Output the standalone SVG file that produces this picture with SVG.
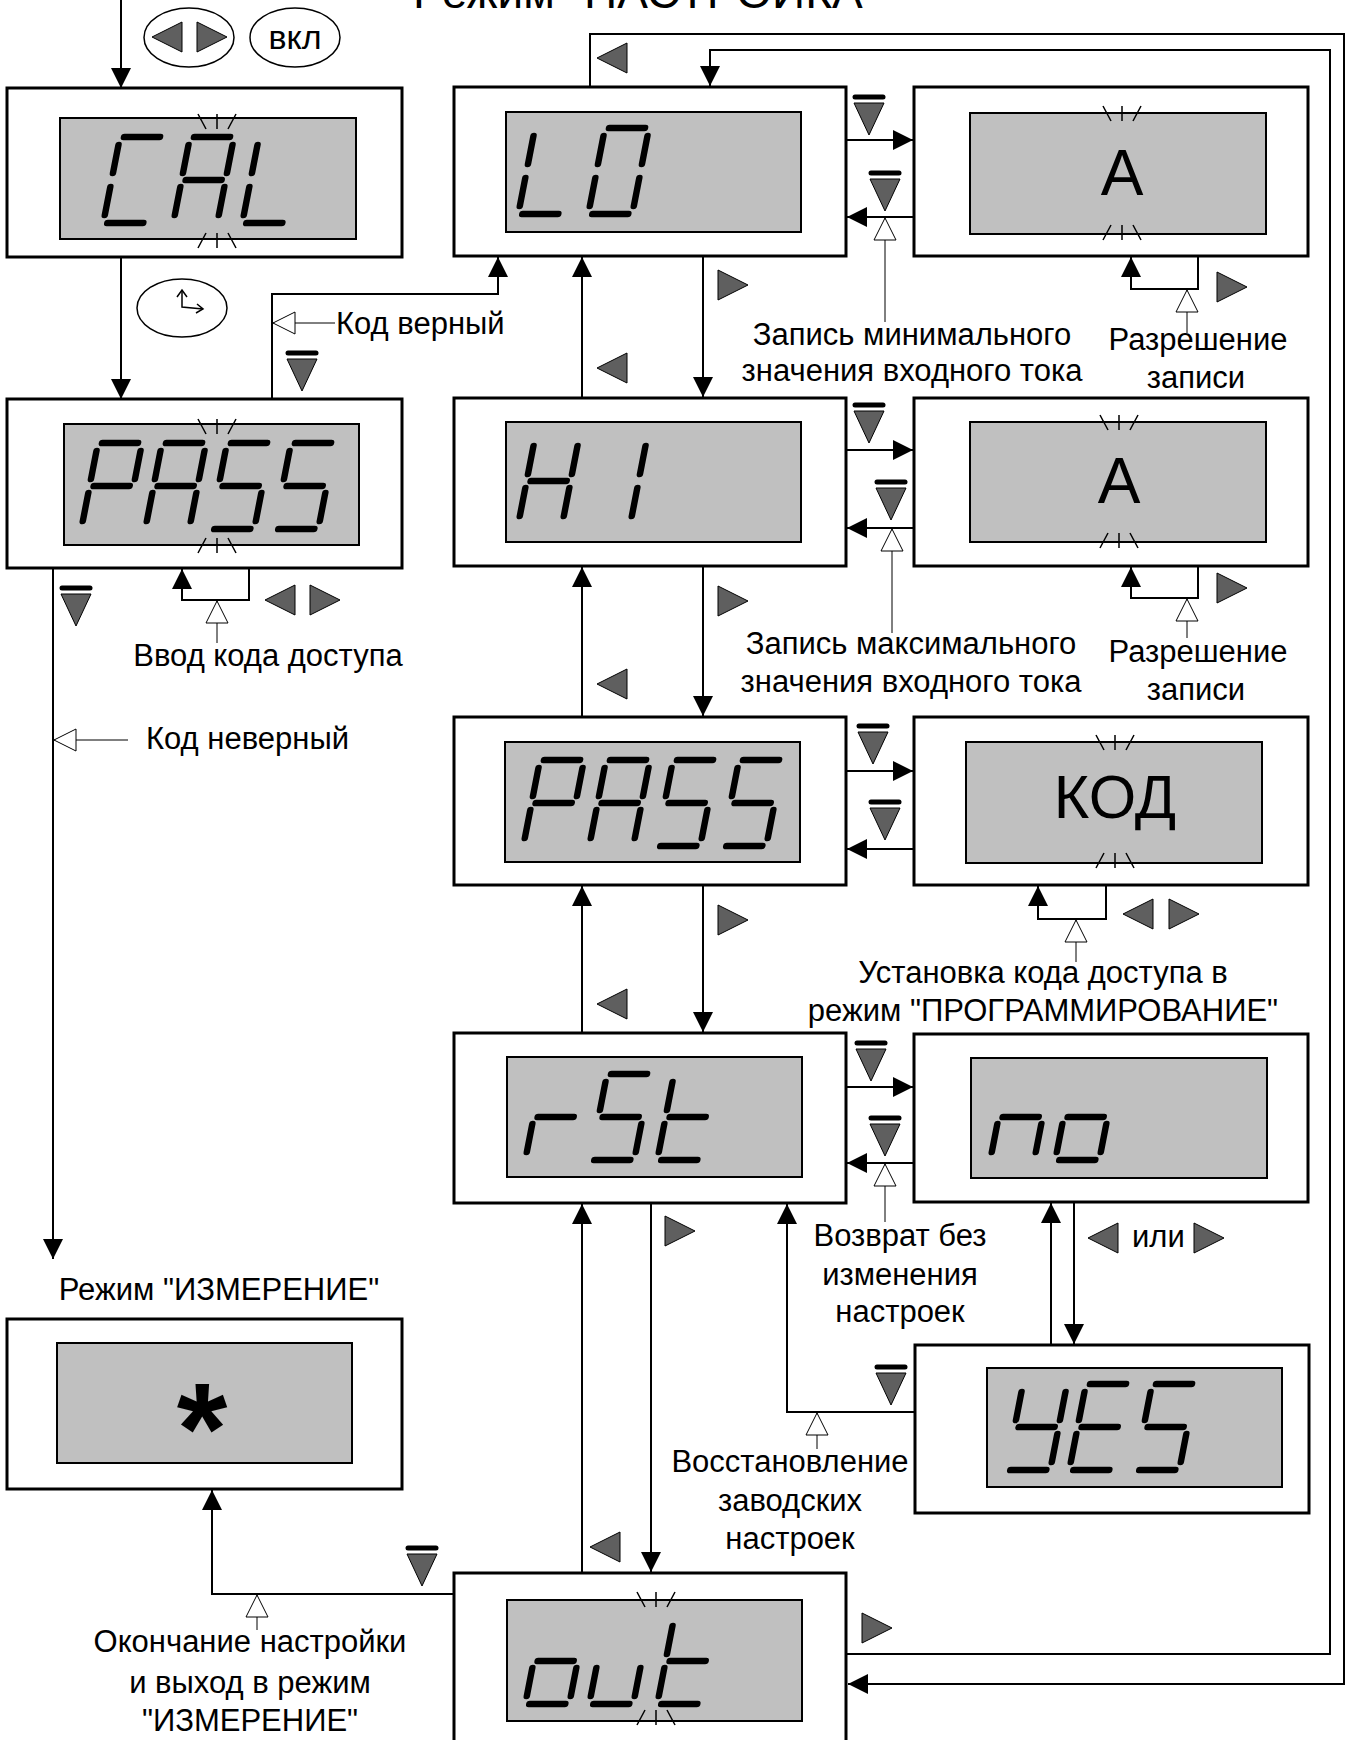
<svg xmlns="http://www.w3.org/2000/svg" xmlns:xlink="http://www.w3.org/1999/xlink" width="1346" height="1740" viewBox="0 0 1346 1740">
<style>
.box{fill:#fff;stroke:#000;stroke-width:3}
.lcd{fill:#c0c0c0;stroke:#000;stroke-width:2}
.seg{fill:none;stroke:#000;stroke-width:6.5;stroke-linecap:round}
.bl{fill:none;stroke:#000;stroke-width:1.5}
.ln{fill:none;stroke:#000;stroke-width:2}
.ld{fill:none;stroke:#000;stroke-width:1}
.key{fill:#5f5f5f;stroke:#000;stroke-width:1}
.ell{fill:#fff;stroke:#000;stroke-width:1.5}
.t{font-family:"Liberation Sans",Arial,sans-serif;font-size:31px;fill:#000}
.m{text-anchor:middle}
</style>
<defs>
<marker id="ah" markerUnits="userSpaceOnUse" markerWidth="22" markerHeight="22" refX="20" refY="10" orient="auto" overflow="visible"><path d="M0,0 L20,10 L0,20 z" fill="#000"/></marker>
<marker id="oh" markerUnits="userSpaceOnUse" markerWidth="26" markerHeight="26" refX="23" refY="12" orient="auto" overflow="visible"><path d="M1,1 L23,12 L1,23 z" fill="#fff" stroke="#000" stroke-width="1"/></marker>
<polygon id="kL" class="key" points="-15,0 15,-15 15,15"/>
<polygon id="kR" class="key" points="15,0 -15,-15 -15,15"/>
<g id="kD"><line x1="-14" y1="0" x2="14" y2="0" stroke="#000" stroke-width="5" stroke-linecap="round"/><polygon class="key" points="-15,6 15,6 0,38"/></g>
<g id="bt" class="bl"><line x1="0" y1="0" x2="0" y2="15"/><line x1="-19" y1="0" x2="-11" y2="15"/><line x1="19" y1="0" x2="11" y2="15"/></g>
<g id="bb" class="bl"><line x1="0" y1="0" x2="0" y2="-15"/><line x1="-19" y1="0" x2="-11" y2="-15"/><line x1="19" y1="0" x2="11" y2="-15"/></g>
<path id="dC" class="seg" d="M4,0H40 M0,8V36 M0,50V78 M4,86H40"/>
<path id="dA" class="seg" d="M4,0H40 M44,8V36 M44,50V78 M0,50V78 M0,8V36 M4,43H40"/>
<path id="dL" class="seg" d="M0,8V36 M0,50V78 M4,86H40"/>
<path id="dP" class="seg" d="M4,0H40 M44,8V36 M0,8V36 M4,43H40 M0,50V78"/>
<path id="dS" class="seg" d="M4,0H40 M0,8V36 M4,43H40 M44,50V78 M4,86H40"/>
<path id="d0" class="seg" d="M4,0H40 M44,8V36 M44,50V78 M4,86H40 M0,50V78 M0,8V36"/>
<path id="dH" class="seg" d="M44,8V36 M44,50V78 M0,50V78 M0,8V36 M4,43H40"/>
<path id="d1" class="seg" d="M44,8V36 M44,50V78"/>
<path id="dr" class="seg" d="M4,43H40 M0,50V78"/>
<path id="dt" class="seg" d="M0,8V36 M0,50V78 M4,43H40 M4,86H40"/>
<path id="do" class="seg" d="M4,43H40 M44,50V78 M4,86H40 M0,50V78"/>
<path id="du" class="seg" d="M0,50V78 M44,50V78 M4,86H40"/>
<path id="dn" class="seg" d="M4,43H40 M0,50V78 M44,50V78"/>
<path id="dY" class="seg" d="M0,8V36 M44,8V36 M4,43H40 M44,50V78 M4,86H40"/>
<path id="dE" class="seg" d="M4,0H40 M0,8V36 M4,43H40 M0,50V78 M4,86H40"/>
</defs>
<rect width="1346" height="1740" fill="#fff"/>

<g id="title"><text class="t m" x="646" y="8" style="font-size:46px">Режим "НАСТРОЙКА"</text></g>

<g id="connectors">
<line class="ln" x1="121" y1="0" x2="121" y2="88" marker-end="url(#ah)"/>
<line class="ln" x1="121" y1="257" x2="121" y2="399" marker-end="url(#ah)"/>
<polyline class="ln" points="272,399 272,294 498,294 498,257" marker-end="url(#ah)"/>
<line class="ld" x1="335" y1="323" x2="273" y2="323" marker-end="url(#oh)"/>
<polyline class="ln" points="249,568 249,600 182,600 182,569" marker-end="url(#ah)"/>
<line class="ld" x1="217" y1="643" x2="217" y2="601" marker-end="url(#oh)"/>
<line class="ln" x1="53" y1="568" x2="53" y2="1259" marker-end="url(#ah)"/>
<line class="ld" x1="128" y1="740" x2="54" y2="740" marker-end="url(#oh)"/>
<polyline class="ln" points="454,1594 212,1594 212,1490" marker-end="url(#ah)"/>
<line class="ld" x1="257" y1="1630" x2="257" y2="1595" marker-end="url(#oh)"/>
<polyline class="ln" points="590,87 590,34 1344,34 1344,1684 848,1684" marker-end="url(#ah)"/>
<polyline class="ln" points="846,1654 1330,1654 1330,50 710,50 710,86" marker-end="url(#ah)"/>
<line class="ln" x1="582" y1="398" x2="582" y2="257" marker-end="url(#ah)"/>
<line class="ln" x1="703" y1="256" x2="703" y2="397" marker-end="url(#ah)"/>
<line class="ln" x1="582" y1="717" x2="582" y2="567" marker-end="url(#ah)"/>
<line class="ln" x1="703" y1="566" x2="703" y2="716" marker-end="url(#ah)"/>
<line class="ln" x1="582" y1="1033" x2="582" y2="886" marker-end="url(#ah)"/>
<line class="ln" x1="703" y1="885" x2="703" y2="1032" marker-end="url(#ah)"/>
<line class="ln" x1="582" y1="1573" x2="582" y2="1204" marker-end="url(#ah)"/>
<line class="ln" x1="651" y1="1203" x2="651" y2="1572" marker-end="url(#ah)"/>
<line class="ln" x1="846" y1="140" x2="913" y2="140" marker-end="url(#ah)"/>
<line class="ln" x1="914" y1="217" x2="847" y2="217" marker-end="url(#ah)"/>
<line class="ld" x1="885" y1="322" x2="885" y2="218" marker-end="url(#oh)"/>
<line class="ln" x1="846" y1="450" x2="913" y2="450" marker-end="url(#ah)"/>
<line class="ln" x1="914" y1="528" x2="847" y2="528" marker-end="url(#ah)"/>
<line class="ld" x1="892" y1="633" x2="892" y2="529" marker-end="url(#oh)"/>
<line class="ln" x1="846" y1="771" x2="913" y2="771" marker-end="url(#ah)"/>
<line class="ln" x1="914" y1="849" x2="847" y2="849" marker-end="url(#ah)"/>
<line class="ln" x1="846" y1="1087" x2="913" y2="1087" marker-end="url(#ah)"/>
<line class="ln" x1="914" y1="1163" x2="847" y2="1163" marker-end="url(#ah)"/>
<line class="ld" x1="885" y1="1222" x2="885" y2="1164" marker-end="url(#oh)"/>
<polyline class="ln" points="915,1412 787,1412 787,1204" marker-end="url(#ah)"/>
<line class="ld" x1="817" y1="1449" x2="817" y2="1413" marker-end="url(#oh)"/>
<line class="ln" x1="1051" y1="1345" x2="1051" y2="1203" marker-end="url(#ah)"/>
<line class="ln" x1="1074" y1="1202" x2="1074" y2="1344" marker-end="url(#ah)"/>
<polyline class="ln" points="1198,256 1198,289 1131,289 1131,257" marker-end="url(#ah)"/>
<line class="ld" x1="1187" y1="333" x2="1187" y2="290" marker-end="url(#oh)"/>
<polyline class="ln" points="1198,566 1198,598 1131,598 1131,567" marker-end="url(#ah)"/>
<line class="ld" x1="1187" y1="638" x2="1187" y2="599" marker-end="url(#oh)"/>
<polyline class="ln" points="1106,885 1106,919 1038,919 1038,886" marker-end="url(#ah)"/>
<line class="ld" x1="1076" y1="962" x2="1076" y2="920" marker-end="url(#oh)"/>
</g>

<g id="keys">
<ellipse class="ell" cx="189" cy="37.5" rx="45" ry="29.5"/>
<use href="#kL" x="167" y="37"/><use href="#kR" x="212" y="37"/>
<ellipse class="ell" cx="295" cy="37.5" rx="45" ry="29.5"/>
<text class="t m" x="295" y="49" style="font-size:34px">вкл</text>
<ellipse class="ell" cx="182" cy="308" rx="45" ry="29"/>
<polyline class="bl" points="182,290 182,307 203,309"/>
<polyline class="bl" points="177,297 182,290 187,297"/>
<polyline class="bl" points="197,304 203,309 196,313"/>
<use href="#kL" x="612" y="58"/>
<use href="#kR" x="733" y="285"/><use href="#kL" x="612" y="368"/>
<use href="#kR" x="733" y="601"/><use href="#kL" x="612" y="684"/>
<use href="#kR" x="733" y="920"/><use href="#kL" x="612" y="1004"/>
<use href="#kR" x="680" y="1231"/><use href="#kL" x="605" y="1547"/>
<use href="#kR" x="877" y="1628"/>
<use href="#kR" x="1232" y="287"/>
<use href="#kR" x="1232" y="588"/>
<use href="#kL" x="1138" y="914"/><use href="#kR" x="1184" y="914"/>
<use href="#kL" x="280" y="600"/><use href="#kR" x="325" y="600"/>
<use href="#kL" x="1103" y="1238"/><use href="#kR" x="1209" y="1238"/>
<use href="#kD" x="302" y="353"/>
<use href="#kD" x="76" y="588"/>
<use href="#kD" x="869" y="97"/><use href="#kD" x="885" y="173"/>
<use href="#kD" x="869" y="405"/><use href="#kD" x="891" y="482"/>
<use href="#kD" x="873" y="726"/><use href="#kD" x="885" y="802"/>
<use href="#kD" x="871" y="1043"/><use href="#kD" x="885" y="1118"/>
<use href="#kD" x="891" y="1367"/>
<use href="#kD" x="422" y="1548"/>
</g>

<g id="labels">
<text class="t" x="336" y="334">Код верный</text>
<text class="t m" x="268" y="666">Ввод кода доступа</text>
<text class="t" x="146" y="749">Код неверный</text>
<text class="t m" x="219" y="1300">Режим "ИЗМЕРЕНИЕ"</text>
<text class="t m" x="250" y="1652">Окончание настройки</text>
<text class="t m" x="250" y="1693">и выход в режим</text>
<text class="t m" x="250" y="1731">"ИЗМЕРЕНИЕ"</text>
<text class="t m" x="912" y="345">Запись минимального</text>
<text class="t m" x="912" y="381">значения входного тока</text>
<text class="t m" x="1198" y="350">Разрешение</text>
<text class="t m" x="1196" y="388">записи</text>
<text class="t m" x="911" y="654">Запись максимального</text>
<text class="t m" x="911" y="692">значения входного тока</text>
<text class="t m" x="1198" y="662">Разрешение</text>
<text class="t m" x="1196" y="700">записи</text>
<text class="t m" x="1043" y="983">Установка кода доступа в</text>
<text class="t m" x="1043" y="1021">режим "ПРОГРАММИРОВАНИЕ"</text>
<text class="t m" x="900" y="1246">Возврат без</text>
<text class="t m" x="900" y="1285">изменения</text>
<text class="t m" x="900" y="1322">настроек</text>
<text class="t" x="1132" y="1247">или</text>
<text class="t m" x="790" y="1472">Восстановление</text>
<text class="t m" x="790" y="1511">заводских</text>
<text class="t m" x="790" y="1549">настроек</text>
</g>

<g id="node-cal">
<rect class="box" x="7" y="88" width="395" height="169"/>
<rect class="lcd" x="60" y="118" width="296" height="121"/>
<use href="#dC" transform="translate(120,137) skewX(-11)"/>
<use href="#dA" transform="translate(190,137) skewX(-11)"/>
<use href="#dL" transform="translate(259,137) skewX(-11)"/>
<use href="#bt" x="217" y="114"/><use href="#bb" x="217" y="248"/>
</g>
<g id="node-pass-left">
<rect class="box" x="7" y="399" width="395" height="169"/>
<rect class="lcd" x="64" y="424" width="295" height="121"/>
<use href="#dP" transform="translate(98,443) skewX(-11)"/>
<use href="#dA" transform="translate(162,443) skewX(-11)"/>
<use href="#dS" transform="translate(227,443) skewX(-11)"/>
<use href="#dS" transform="translate(291,443) skewX(-11)"/>
<use href="#bt" x="217" y="419"/><use href="#bb" x="217" y="553"/>
</g>
<g id="node-measure">
<rect class="box" x="7" y="1319" width="395" height="170"/>
<rect class="lcd" x="57" y="1343" width="295" height="120"/>
<text x="202" y="1474" text-anchor="middle" style="font-family:'Liberation Sans',Arial,sans-serif;font-size:130px;font-weight:bold">*</text>
</g>
<g id="node-lo">
<rect class="box" x="454" y="87" width="392" height="169"/>
<rect class="lcd" x="506" y="112" width="295" height="120"/>
<use href="#dL" transform="translate(535,128) skewX(-11)"/>
<use href="#d0" transform="translate(605,128) skewX(-11)"/>
</g>
<g id="node-lo-a">
<rect class="box" x="914" y="87" width="394" height="169"/>
<rect class="lcd" x="970" y="113" width="296" height="121"/>
<text class="t m" x="1122" y="195" style="font-size:64px">A</text>
<use href="#bt" x="1122" y="106"/><use href="#bb" x="1122" y="240"/>
</g>
<g id="node-hi">
<rect class="box" x="454" y="398" width="392" height="168"/>
<rect class="lcd" x="506" y="422" width="295" height="120"/>
<use href="#dH" transform="translate(535,438) skewX(-11)"/>
<use href="#d1" transform="translate(603,438) skewX(-11)"/>
</g>
<g id="node-hi-a">
<rect class="box" x="914" y="398" width="394" height="168"/>
<rect class="lcd" x="970" y="422" width="296" height="120"/>
<text class="t m" x="1119" y="503" style="font-size:64px">A</text>
<use href="#bt" x="1119" y="415"/><use href="#bb" x="1119" y="548"/>
</g>
<g id="node-pass-right">
<rect class="box" x="454" y="717" width="392" height="168"/>
<rect class="lcd" x="505" y="742" width="295" height="120"/>
<use href="#dP" transform="translate(540,760) skewX(-11)"/>
<use href="#dA" transform="translate(606,760) skewX(-11)"/>
<use href="#dS" transform="translate(673,760) skewX(-11)"/>
<use href="#dS" transform="translate(739,760) skewX(-11)"/>
</g>
<g id="node-kod">
<rect class="box" x="914" y="717" width="394" height="168"/>
<rect class="lcd" x="966" y="742" width="296" height="121"/>
<text class="t m" x="1115" y="818" style="font-size:61px">КОД</text>
<use href="#bt" x="1115" y="735"/><use href="#bb" x="1115" y="868"/>
</g>
<g id="node-rst">
<rect class="box" x="454" y="1033" width="392" height="170"/>
<rect class="lcd" x="507" y="1057" width="295" height="120"/>
<use href="#dr" transform="translate(542,1074) skewX(-11)"/>
<use href="#dS" transform="translate(607,1074) skewX(-11)"/>
<use href="#dt" transform="translate(674,1074) skewX(-11)"/>
</g>
<g id="node-no">
<rect class="box" x="914" y="1034" width="394" height="168"/>
<rect class="lcd" x="971" y="1058" width="296" height="120"/>
<use href="#dn" transform="translate(1007,1074) skewX(-11)"/>
<use href="#do" transform="translate(1072,1074) skewX(-11)"/>
</g>
<g id="node-yes">
<rect class="box" x="915" y="1345" width="394" height="168"/>
<rect class="lcd" x="987" y="1368" width="295" height="119"/>
<use href="#dY" transform="translate(1023,1384) skewX(-11)"/>
<use href="#dE" transform="translate(1086,1384) skewX(-11)"/>
<use href="#dS" transform="translate(1152,1384) skewX(-11)"/>
</g>
<g id="node-out">
<rect class="box" x="454" y="1573" width="392" height="172"/>
<rect class="lcd" x="507" y="1600" width="295" height="121"/>
<use href="#do" transform="translate(542,1618) skewX(-11)"/>
<use href="#du" transform="translate(606,1618) skewX(-11)"/>
<use href="#dt" transform="translate(674,1618) skewX(-11)"/>
<use href="#bt" x="656" y="1592"/><use href="#bb" x="656" y="1725"/>
</g>
</svg>
